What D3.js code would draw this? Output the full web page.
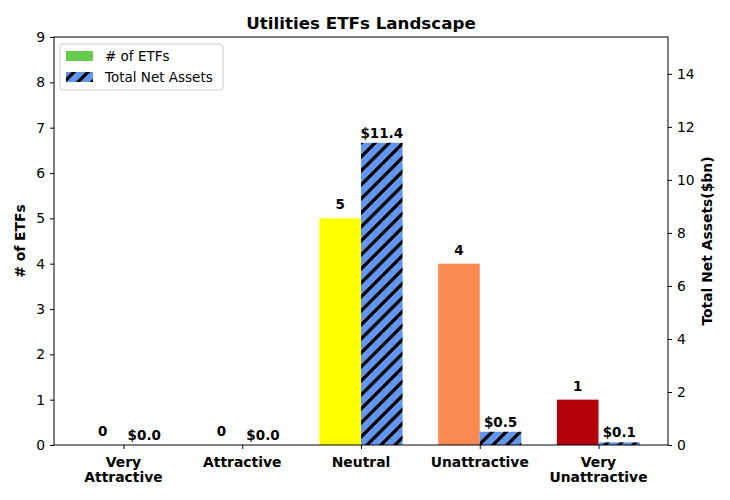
<!DOCTYPE html>
<html><head><meta charset="utf-8">
<script src="https://cdn.jsdelivr.net/npm/d3@7"></script>
<style>body{margin:0;background:#fff;}text{font-family:"DejaVu Sans",sans-serif;}</style>
</head><body>
<svg id="c" width="730" height="500"></svg>
<script>
const categories = ["Very\nAttractive", "Attractive", "Neutral", "Unattractive", "Very\nUnattractive"];
const etfCounts = [0, 0, 5, 4, 1];
const netAssets = [0.0, 0.0, 11.4, 0.5, 0.1];
const barColors = ["#1a9641", "#a6d96a", "#ffff00", "#f98a52", "#b5000c"];
const leftTicks = [0,1,2,3,4,5,6,7,8,9];
const rightTicks = [0,2,4,6,8,10,12,14];

const svg = d3.select("#c");
const L = 54, R = 668, T = 37, B = 445;
const bw = 0.35;
const x = d3.scaleLinear().domain([-0.585, 4.585]).range([L, R]);
const yL = d3.scaleLinear().domain([0, 9]).range([B, T]);
const yR = d3.scaleLinear().domain([0, 11.4 * 1.35]).range([B, T]);

const defs = svg.append("defs");
const P = 14;
const pat = defs.append("pattern").attr("id","hatch").attr("patternUnits","userSpaceOnUse")
  .attr("width",P).attr("height",P);
pat.append("rect").attr("width",P).attr("height",P).attr("fill","#6495ed");
pat.append("path").attr("d",`M-3,3 L3,-3 M0,${P} L${P},0 M${P-3},${P+3} L${P+3},${P-3}`).attr("stroke","#000").attr("stroke-width",3.2);

const pw = x(bw) - x(0);
svg.selectAll(".b1").data(etfCounts).enter().append("rect")
  .attr("x",(d,i)=>x(i - bw/2) - pw/2).attr("width",pw)
  .attr("y",d=>yL(d)).attr("height",d=>B - yL(d))
  .attr("fill",(d,i)=>barColors[i]);
svg.selectAll(".b2").data(netAssets).enter().append("rect")
  .attr("x",(d,i)=>x(i + bw/2) - pw/2).attr("width",pw)
  .attr("y",d=>yR(d)).attr("height",d=>B - yR(d))
  .attr("fill","url(#hatch)");

svg.selectAll(".l1").data(etfCounts).enter().append("text")
  .attr("x",(d,i)=>x(i - bw/2)).attr("y",d=>yL(d) - 9)
  .attr("text-anchor","middle").attr("font-size",13.5).attr("font-weight","bold")
  .text(d=>d);
svg.selectAll(".l2").data(netAssets).enter().append("text")
  .attr("x",(d,i)=>x(i + bw/2)).attr("y",d=>yR(d) - 5)
  .attr("text-anchor","middle").attr("font-size",13.5).attr("font-weight","bold")
  .text(d=>"$" + d.toFixed(1));

const axL = d3.axisLeft(yL).tickValues(leftTicks).tickSize(4).tickPadding(5);
const gL = svg.append("g").attr("transform",`translate(${L},0)`).call(axL);
const axR = d3.axisRight(yR).tickValues(rightTicks).tickSize(4).tickPadding(5);
const gR = svg.append("g").attr("transform",`translate(${R},0)`).call(axR);
const axB = d3.axisBottom(x).tickValues(d3.range(categories.length)).tickSize(4).tickFormat("");
const gB = svg.append("g").attr("transform",`translate(0,${B})`).call(axB);
[gL,gR,gB].forEach(g=>{
  g.select(".domain").remove();
  g.selectAll("text").attr("font-size",13.9).attr("fill","#000").style("font-family","DejaVu Sans");
  g.selectAll("line").attr("stroke","#000");
});
categories.forEach((c,i)=>{
  const lines = c.split("\n");
  const t = svg.append("text").attr("x",x(i)).attr("y",B+22).attr("text-anchor","middle")
    .attr("font-size",13.9).attr("font-weight","bold");
  lines.forEach((ln,j)=>t.append("tspan").attr("x",x(i)).attr("dy",j?15:0).text(ln));
});
svg.append("rect").attr("x",L).attr("y",T).attr("width",R-L).attr("height",B-T)
  .attr("fill","none").attr("stroke","#000").attr("stroke-width",1);

svg.append("text").attr("x",(L+R)/2).attr("y",29).attr("text-anchor","middle")
  .attr("font-size",16.7).attr("font-weight","bold").text("Utilities ETFs Landscape");
svg.append("text").attr("transform",`translate(25,${(T+B)/2}) rotate(-90)`).attr("text-anchor","middle")
  .attr("font-size",13.9).attr("font-weight","bold").text("# of ETFs");
svg.append("text").attr("transform",`translate(712,${(T+B)/2}) rotate(-90)`).attr("text-anchor","middle")
  .attr("font-size",13.9).attr("font-weight","bold").text("Total Net Assets($bn)");

const lg = svg.append("g").attr("transform","translate(60,44)");
lg.append("rect").attr("width",163).attr("height",46).attr("rx",3)
  .attr("fill","#fff").attr("fill-opacity",0.8).attr("stroke","#ccc").attr("stroke-width",1);
lg.append("rect").attr("x",6).attr("y",7).attr("width",27).attr("height",10).attr("fill","#66cc4c");
lg.append("rect").attr("x",6).attr("y",28).attr("width",27).attr("height",10).attr("fill","url(#hatch)");
lg.append("text").attr("x",45).attr("y",17).attr("font-size",13.5).text("# of ETFs");
lg.append("text").attr("x",45).attr("y",38).attr("font-size",13.5).text("Total Net Assets");
</script>
</body></html>
